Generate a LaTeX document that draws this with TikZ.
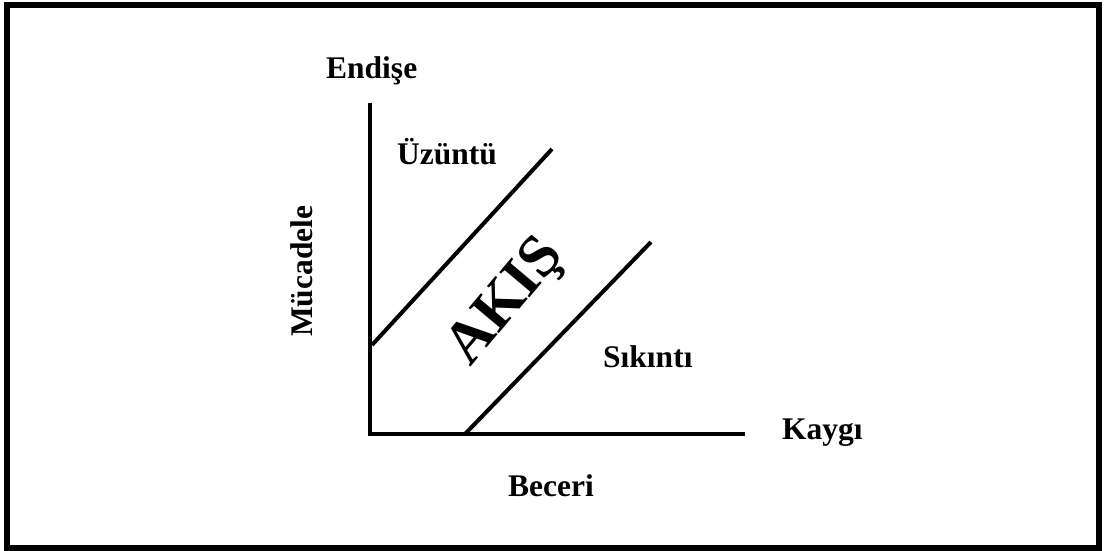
\documentclass[tikz,border=0pt]{standalone}
\usepackage{fontspec}
\setmainfont{Liberation Serif}
\begin{document}
\begin{tikzpicture}[x=1pt,y=-1pt,
  lbl/.style={inner sep=0pt,anchor=base west,font=\fontsize{31.5}{36}\selectfont\bfseries},
  axisline/.style={line width=4.5pt},
  diagline/.style={line width=4pt}]
\useasboundingbox (0,0) rectangle (1104,551);
\draw[line width=6pt] (7,5) rectangle (1099,548);
% coordinates
\coordinate (top) at (370,103);
\coordinate (orig) at (370,434);
\coordinate (right) at (745,434);
\coordinate (d1a) at (372,345);
\coordinate (d1b) at (552,149);
\coordinate (d2a) at (465,434);
\coordinate (d2b) at (651,242);
\draw[axisline] (top) -- (orig) -- (right);
\draw[diagline] (d1a) -- (d1b);
\draw[diagline] (d2a) -- (d2b);
% labels
\node[lbl] (endise) at (326,79) {Endişe};
\node[lbl] (uzuntu) at (397,164) {Üzüntü};
\node[lbl] (sikinti) at (603,367) {Sıkıntı};
\node[lbl] (kaygi) at (782,439) {Kaygı};
\node[lbl] (beceri) at (508,496) {Beceri};
\node[lbl,rotate=90] (mucadele) at (312,337) {Mücadele};
\node[inner sep=0pt,rotate=50,font=\fontsize{60}{70}\selectfont\bfseries] (akis) at (507,303) {AKIŞ};
\end{tikzpicture}
\end{document}
